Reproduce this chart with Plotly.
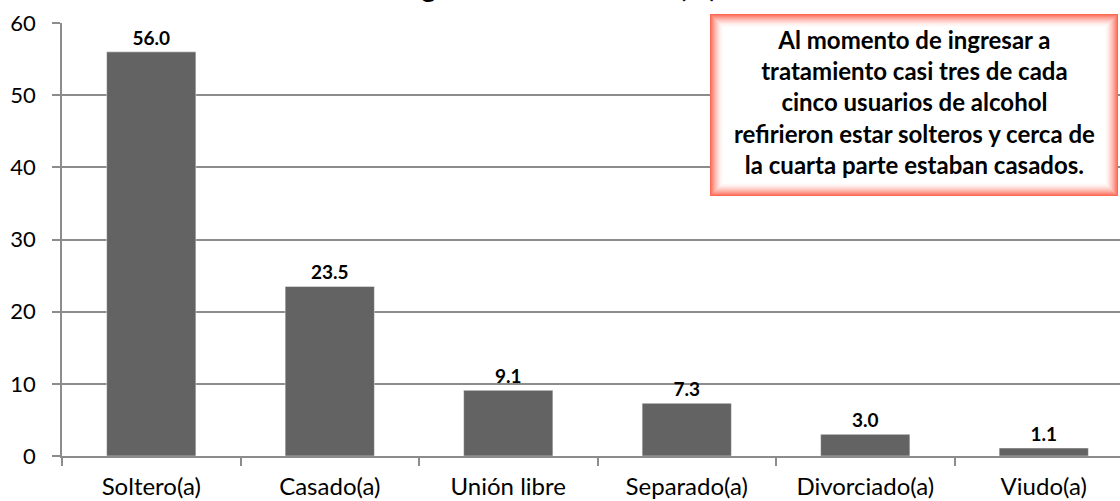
import plotly.graph_objects as go

categories = ["Soltero(a)", "Casado(a)", "Unión libre", "Separado(a)", "Divorciado(a)", "Viudo(a)"]
values = [56.0, 23.5, 9.1, 7.3, 3.0, 1.1]
value_labels = ["56.0", "23.5", "9.1", "7.3", "3.0", "1.1"]
y_ticks = [0, 10, 20, 30, 40, 50, 60]
title_text = "Estado civil al momento de ingresar a tratamiento (%)"
note_lines = [
    "Al momento de ingresar a",
    "tratamiento casi tres de cada",
    "cinco usuarios de alcohol",
    "refirieron estar solteros y cerca de",
    "la cuarta parte estaban casados.",
]

W, H = 1120, 501
ML, MR, MT, MB = 62, 0, 23, 45
PW, PH = W - ML - MR, H - MT - MB


def px_x(p):
    return (p - ML) / PW


def px_y(p):
    return (H - MB - p) / PH


GRID = "#8c8c8c"
FONT = "Lato"

fig = go.Figure()
fig.add_trace(go.Bar(
    x=categories,
    y=values,
    width=0.5,
    marker=dict(color="#636363", line=dict(color="rgba(255,255,255,0.45)", width=1)),
    text=value_labels,
    textposition="outside",
    textfont=dict(family=FONT, size=19, color="#000000", weight="bold"),
    cliponaxis=False,
    hoverinfo="skip",
))

# Callout box with soft red edge glow
shapes = []
bx0, bx1, by0, by1 = 710, 1118, 14, 196
edge = (252, 105, 85)
N = 13
for i in range(N):
    t = i / N
    f = (1 - t) ** 1.6
    c = tuple(int(round(e * f + 255 * (1 - f))) for e in edge)
    shapes.append(dict(
        type="rect", xref="paper", yref="paper", layer="above",
        x0=px_x(bx0 + i), x1=px_x(bx1 - i), y0=px_y(by1 - i), y1=px_y(by0 + i),
        fillcolor="rgb(%d,%d,%d)" % c, line=dict(width=0),
    ))
shapes.append(dict(
    type="rect", xref="paper", yref="paper", layer="above",
    x0=px_x(bx0 + N), x1=px_x(bx1 - N), y0=px_y(by1 - N), y1=px_y(by0 + N),
    fillcolor="#ffffff", line=dict(width=0),
))

annotations = [
    dict(
        xref="paper", yref="paper", x=px_x((bx0 + bx1) / 2), y=px_y(102),
        xanchor="center", yanchor="middle", showarrow=False, align="center",
        text="<br>".join(note_lines),
        font=dict(family=FONT, size=24, color="#000000", weight="bold"),
    ),
    dict(
        xref="paper", yref="paper", x=px_x(719), y=px_y(-14),
        xanchor="right", yanchor="middle", showarrow=False,
        text=title_text,
        font=dict(family=FONT, size=28, color="#000000", weight="bold"),
    ),
]

fig.update_layout(
    width=W, height=H,
    margin=dict(l=ML, r=MR, t=MT, b=MB, pad=0),
    paper_bgcolor="#ffffff", plot_bgcolor="#ffffff",
    showlegend=False,
    bargap=0.5,
    shapes=shapes,
    annotations=annotations,
    font=dict(family=FONT, color="#000000"),
)
fig.update_xaxes(
    type="category",
    range=[-0.5, -0.5 + PW / 178.5],
    showline=True, linecolor=GRID, linewidth=1.5,
    ticks="outside", tickson="boundaries", ticklen=8, tickcolor=GRID, tickwidth=1.5,
    tickfont=dict(family=FONT, size=24, color="#000000"),
    ticklabelstandoff=8,
    showgrid=False, zeroline=False,
)
fig.update_yaxes(
    range=[0, 60], tickvals=y_ticks,
    showline=True, linecolor=GRID, linewidth=1.5,
    ticks="outside", ticklen=8, tickcolor=GRID, tickwidth=1.5,
    tickfont=dict(family=FONT, size=22, color="#000000"),
    ticklabelstandoff=12,
    showgrid=True, gridcolor=GRID, gridwidth=1.5,
    zeroline=False,
)

fig.write_html(
    "out.html",
    config={"displayModeBar": False},
    post_script="document.body.style.margin='0';document.body.style.overflow='hidden';",
)
